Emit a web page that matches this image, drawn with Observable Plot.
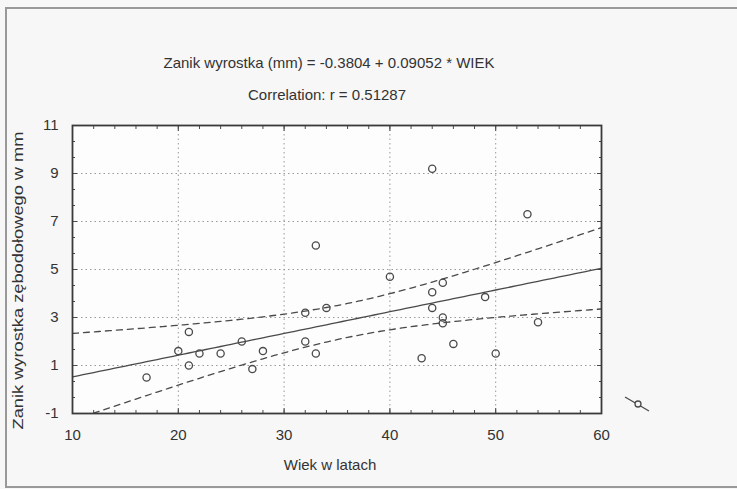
<!DOCTYPE html>
<html><head><meta charset="utf-8">
<script src="https://cdn.jsdelivr.net/npm/d3@7"></script>
<script src="https://cdn.jsdelivr.net/npm/@observablehq/plot@0.6"></script>
<style>
html,body{margin:0;padding:0;background:#f7f7f7;}
#wrap{position:relative;width:737px;height:489px;overflow:hidden;}
#border{position:absolute;left:5px;top:7px;width:760px;height:481px;border:2px solid #999;border-right:none;box-sizing:border-box;}
#wrap svg{position:absolute;left:0;top:0;}
</style></head><body>
<div id="wrap"><div id="border"></div></div>
<script>
// Data
const ages = [17,20,21,21,22,24,26,27,28,32,32,33,33,34,40,43,44,44,44,45,45,45,46,49,50,53,54];
const loss = [0.5,1.6,2.4,1.0,1.5,1.5,2.0,0.85,1.6,3.2,2.0,6.0,1.5,3.4,4.7,1.3,9.2,4.05,3.4,4.45,3.0,2.76,1.9,3.85,1.5,7.3,2.8];
const intercept = -0.3804, slope = 0.09052, corr = 0.51287;
const xTicks = [10,20,30,40,50,60];
const yTicks = [-1,1,3,5,7,9,11];
const titleLine1 = "Zanik wyrostka (mm) = -0.3804 + 0.09052 * WIEK";
const titleLine2 = "Correlation: r = 0.51287";
const xLabel = "Wiek w latach";
const yLabel = "Zanik wyrostka zębodołowego w mm";

const pts = ages.map((a, i) => ({age: a, loss: loss[i]}));

// Regression line and 95% confidence bands of the fitted mean
const n = pts.length;
const mx = d3.mean(ages);
const sxx = d3.sum(ages, a => (a - mx) ** 2);
const sse = d3.sum(pts, p => (p.loss - (intercept + slope * p.age)) ** 2);
const s = Math.sqrt(sse / (n - 2));
const t = 2.0595; // t(0.975, 25)
const fitXs = d3.range(10, 60.001, 0.5);
const fit = fitXs.map(x => {
  const yhat = intercept + slope * x;
  const h = t * s * Math.sqrt(1 / n + (x - mx) ** 2 / sxx);
  return {x, yhat, lo: yhat - h, hi: yhat + h};
});

const minorX = d3.range(10, 60.001, 2);
const minorY = d3.range(-1, 11.001, 2 / 3);
const ink = "#4a4a4a";
const font = "'Liberation Sans Narrow', 'Liberation Sans', Arial, sans-serif";

const chart = Plot.plot({
  width: 737, height: 489,
  marginLeft: 72, marginRight: 136, marginTop: 125, marginBottom: 76,
  x: {domain: [10, 60]},
  y: {domain: [-1, 11]},
  style: {background: "transparent", fontFamily: font, color: "#333", overflow: "visible"},
  marks: [
    Plot.frame({fill: "#fdfdfd", stroke: null}),
    Plot.gridX({ticks: [20, 30, 40, 50], stroke: "#999", strokeOpacity: 1, strokeDasharray: "1.5,3"}),
    Plot.gridY({ticks: [1, 3, 5, 7, 9], stroke: "#999", strokeOpacity: 1, strokeDasharray: "1.5,3"}),
    Plot.line(fit, {x: "x", y: "hi", stroke: ink, strokeWidth: 1.3, strokeDasharray: "6,5", clip: true}),
    Plot.line(fit, {x: "x", y: "lo", stroke: ink, strokeWidth: 1.3, strokeDasharray: "6,5", clip: true}),
    Plot.line(fit, {x: "x", y: "yhat", stroke: ink, strokeWidth: 1.3, clip: true}),
    Plot.dot(pts, {x: "age", y: "loss", r: 3.6, stroke: ink, strokeWidth: 1.3, fill: "none"}),
    // inward ticks on all sides
    Plot.axisX({anchor: "bottom", ticks: minorX, tickSize: -3, tickFormat: () => "", stroke: ink}),
    Plot.axisX({anchor: "top", ticks: minorX, tickSize: -3, tickFormat: () => "", stroke: ink}),
    Plot.axisX({anchor: "bottom", ticks: xTicks, tickSize: -5, tickFormat: () => "", stroke: ink}),
    Plot.axisX({anchor: "top", ticks: xTicks, tickSize: -5, tickFormat: () => "", stroke: ink}),
    Plot.axisY({anchor: "left", ticks: minorY, tickSize: -3, tickFormat: () => "", stroke: ink}),
    Plot.axisY({anchor: "right", ticks: minorY, tickSize: -3, tickFormat: () => "", stroke: ink}),
    Plot.axisY({anchor: "left", ticks: yTicks, tickSize: -5, tickFormat: () => "", stroke: ink}),
    Plot.axisY({anchor: "right", ticks: yTicks, tickSize: -5, tickFormat: () => "", stroke: ink}),
    // tick labels
    Plot.axisX({anchor: "bottom", ticks: xTicks, tickSize: 0, tickPadding: 16, fontSize: 15, fill: "#333", label: null, tickFormat: d => String(d)}),
    Plot.axisY({anchor: "left", ticks: yTicks, tickSize: 0, tickPadding: 14, fontSize: 15, fill: "#333", label: null, tickFormat: d => String(d)}),
    Plot.frame({stroke: "#3a3a3a", strokeWidth: 1.8}),
    // titles and axis labels
    Plot.text([titleLine1], {frameAnchor: "top", dx: -8, dy: -68, text: d => d, fontSize: 15, fill: "#333"}),
    Plot.text([titleLine2], {frameAnchor: "top", dx: -10, dy: -36, text: d => d, fontSize: 15, fill: "#333"}),
    Plot.text([xLabel], {frameAnchor: "bottom", dx: -7, dy: 56, text: d => d, fontSize: 15, fill: "#333"}),
    Plot.text([yLabel], {frameAnchor: "left", textAnchor: "middle", dx: -54, dy: 11, rotate: -90, text: d => d, fontSize: 14, fill: "#333"})
  ]
});
document.getElementById("wrap").appendChild(chart);

// stretch the vertical axis title to the reference length
d3.select(chart).selectAll("text").filter(function () { return this.textContent === yLabel; })
  .attr("textLength", 298).attr("lengthAdjust", "spacingAndGlyphs");

// legend glyph (line with marker) at the lower right
const leg = d3.select(chart).append("g").attr("stroke", ink).attr("stroke-width", 1.3);
leg.append("line").attr("x1", 625).attr("y1", 397).attr("x2", 649).attr("y2", 411);
leg.append("circle").attr("cx", 638).attr("cy", 404).attr("r", 3).attr("fill", "#f7f7f7");
</script>
</body></html>
